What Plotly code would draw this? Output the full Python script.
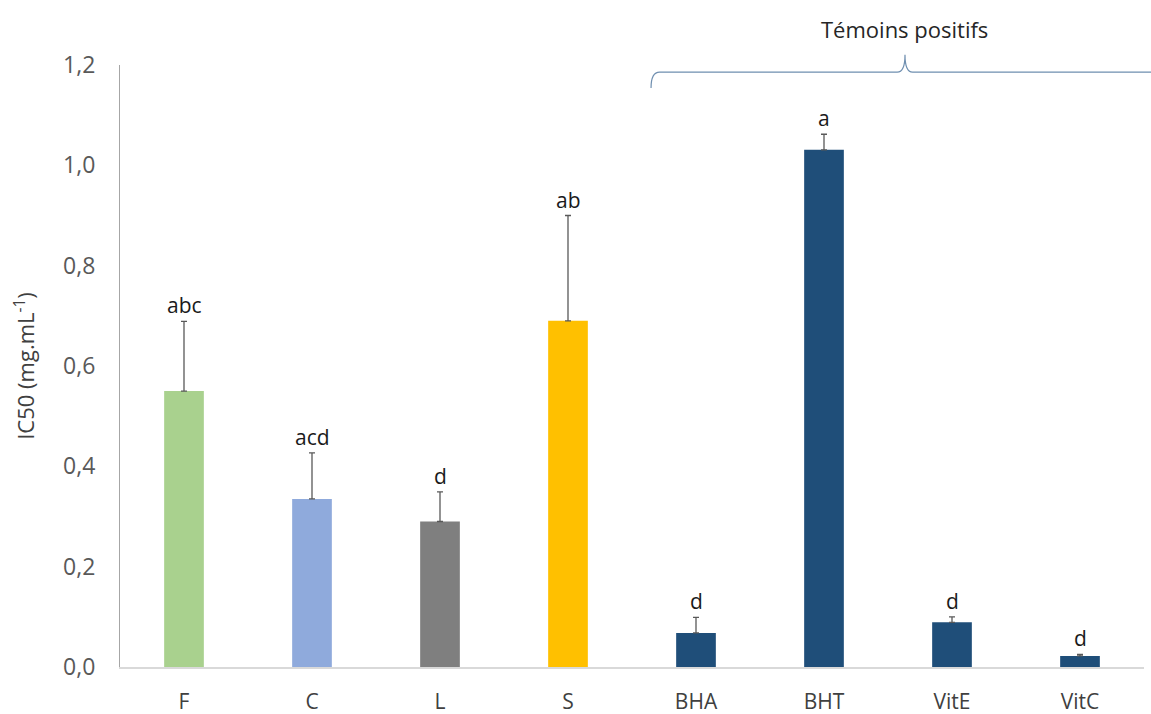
import plotly.graph_objects as go

# IC50 values (mg/mL) with standard deviations and significance letters
categories = ["F", "C", "L", "S", "BHA", "BHT", "VitE", "VitC"]
ic50 = [0.55, 0.335, 0.29, 0.69, 0.068, 1.031, 0.089, 0.022]
sd = [0.139, 0.092, 0.059, 0.21, 0.031, 0.031, 0.011, 0.003]
letters = ["abc", "acd", "d", "ab", "d", "a", "d", "d"]
colors = ["#A9D18E", "#8FAADC", "#7F7F7F", "#FFC000",
          "#1F4E79", "#1F4E79", "#1F4E79", "#1F4E79"]
y_ticks = [0.0, 0.2, 0.4, 0.6, 0.8, 1.0, 1.2]
y_tick_labels = ["0,0", "0,2", "0,4", "0,6", "0,8", "1,0", "1,2"]

FONT = "Open Sans"

fig = go.Figure()
fig.add_trace(go.Bar(
    x=categories,
    y=ic50,
    width=0.31,
    marker=dict(color=colors, line=dict(width=0)),
    error_y=dict(type="data", array=sd, arrayminus=[0] * len(sd),
                 symmetric=False, color="#595959", thickness=1.3, width=3),
    showlegend=False,
))

for cat, v, e, lab in zip(categories, ic50, sd, letters):
    fig.add_annotation(x=cat, y=v + e, text=lab, showarrow=False,
                       xanchor="center", yanchor="bottom", yshift=0,
                       font=dict(family=FONT, size=21, color="#1a1a1a"))

# Brace over the positive controls
fig.add_shape(
    type="path", xref="paper", yref="paper",
    path=("M 0.5186,0.962 Q 0.5186,0.988 0.527,0.988 "
          "L 0.759,0.988 Q 0.7666,0.988 0.7666,1.017 "
          "Q 0.7666,0.988 0.774,0.988 L 1.01,0.988"),
    line=dict(color="#6F8FB0", width=1.2),
)
fig.add_annotation(x=0.7666, y=1.06, xref="paper", yref="paper",
                   text="Témoins positifs", showarrow=False,
                   xanchor="center", yanchor="middle",
                   font=dict(family=FONT, size=22, color="#262626"))

fig.update_layout(
    width=1151, height=714,
    margin=dict(l=120, r=7, t=65, b=47, autoexpand=False),
    plot_bgcolor="white", paper_bgcolor="white",
    bargap=0.69,
    font=dict(family=FONT),
)
fig.update_yaxes(
    range=[0, 1.2], tickvals=y_ticks, ticktext=y_tick_labels,
    showgrid=False, zeroline=False, automargin=False,
    showline=True, linecolor="#A6A6A6", linewidth=1.2,
    ticks="", ticklabelstandoff=19,
    tickfont=dict(family=FONT, size=23, color="#595959"),
    title=dict(text="IC50 (mg.mL<sup>-1</sup>)", standoff=22,
               font=dict(family=FONT, size=22, color="#404040")),
)
fig.update_xaxes(
    showgrid=False, showline=True, linecolor="#D9D9D9", linewidth=1.5,
    ticks="", ticklabelstandoff=15, automargin=False,
    tickfont=dict(family=FONT, size=21, color="#404040"),
)

fig.write_html("out.html")
